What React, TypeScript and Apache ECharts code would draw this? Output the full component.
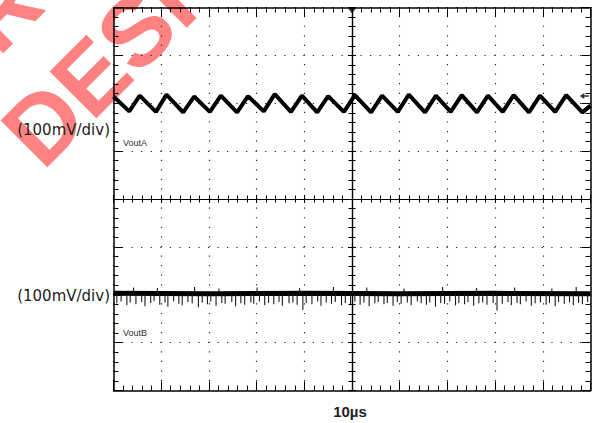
import React, { useEffect, useRef } from "react";
import * as echarts from "echarts";

// ---- data ----
const timeMin = -50; // µs, trigger at centre
const timeMax = 50;
const timeStep = 10; // 10µs/div
const voltMin = -400; // mV
const voltMax = 400;
const voltStep = 100; // 100mV/div

// Channel A: triangular ripple (vertices: time µs, mV)
const traceATimes = [
  -50, -46.7, -44.5, -41.1, -38.9, -35.4, -33.1, -29.8, -27.5, -24.1, -21.8, -18.5, -16.2,
  -12.8, -10.5, -7.3, -5.0, -1.7, 0.6, 4.0, 6.3, 9.6, 11.9, 15.3, 17.6, 20.7, 23.0, 26.2,
  28.5, 31.6, 33.9, 37.1, 39.4, 42.6, 44.9, 48.3, 50,
];
const traceAValues = [
  214, 183, 216, 182, 218, 181, 214, 182, 216, 181, 215, 183, 219, 182, 216, 181, 215, 182,
  217, 181, 216, 182, 218, 181, 216, 182, 217, 181, 216, 182, 217, 181, 216, 182, 217, 181,
  195,
];

// Channel B: flat noisy level
const traceBTimes = [-50, -30, -10, 10, 30, 50];
const traceBValues = [-197, -198, -197, -198, -197, -198];
const traceBBase = -198;
// downward noise spikes on channel B: [time µs, tip mV]
const spikesDown = [
  [-49.3, -218], [-48.4, -214], [-47.2, -222], [-46.5, -216], [-45.3, -220], [-44.1, -215],
  [-43.4, -224], [-42.2, -217], [-41.5, -213], [-40.3, -221], [-39.2, -216], [-38.6, -225],
  [-37.4, -214], [-36.3, -219], [-35.6, -222], [-34.4, -215], [-33.5, -218], [-32.2, -226],
  [-31.4, -216], [-30.3, -220], [-29.6, -214], [-28.5, -223], [-27.3, -217], [-26.6, -219],
  [-25.2, -215], [-24.4, -224], [-23.3, -218], [-22.5, -221], [-21.2, -216], [-20.6, -219],
  [-19.4, -214], [-18.3, -222], [-17.5, -217], [-16.4, -220], [-15.3, -215], [-14.6, -223],
  [-13.2, -218], [-12.4, -216], [-11.5, -221], [-10.3, -232], [-9.6, -217], [-8.4, -220],
  [-7.2, -214], [-6.5, -223], [-5.4, -216], [-4.3, -219], [-3.5, -215], [-2.2, -222],
  [-1.4, -217], [-0.3, -220], [0.6, -214], [1.7, -221], [2.5, -216], [3.6, -224],
  [4.8, -218], [5.5, -215], [6.7, -220], [7.4, -217], [8.6, -223], [9.5, -215],
  [10.3, -219], [11.6, -216], [12.4, -222], [13.7, -214], [14.5, -218], [15.6, -221],
  [16.3, -216], [17.5, -225], [18.6, -217], [19.4, -219], [20.5, -214], [21.7, -222],
  [22.4, -217], [23.6, -220], [24.3, -215], [25.5, -223], [26.6, -218], [27.4, -216],
  [28.3, -221], [29.6, -217], [30.4, -233], [31.5, -219], [32.7, -215], [33.4, -222],
  [34.6, -217], [35.3, -220], [36.5, -214], [37.6, -223], [38.4, -218], [39.5, -216],
  [40.7, -221], [41.4, -217], [42.6, -224], [43.3, -215], [44.5, -219], [45.6, -216],
  [46.4, -222], [47.5, -217], [48.3, -220], [49.4, -215],
];
// upward noise spikes on channel B: [time µs, tip mV]
const spikesUp = [
  [-45.8, -185], [-40.8, -186], [-33.0, -184], [-27.9, -187], [-19.9, -185], [-11.0, -186],
  [-3.9, -184], [3.1, -185], [10.9, -187], [19.0, -184], [26.1, -186], [34.1, -185],
  [41.9, -187], [47.0, -184],
];

const triggerPoint = [[0, 400]];
const levelPoint = [[48.7, 215]];

const scaleLabel = "(100mV/div)";
const channelNames = ["VoutA", "VoutB"];
const timeLabel = "10µs";
const watermarkLines = ["NOT RECOMMENDED FOR", "NEW", "DESIGNS"];

const tickLine = { color: "#000", width: 1 };

function borderAxis(position: string, dotted: any) {
  return {
    type: "value",
    position,
    axisLine: { show: true, onZero: false, lineStyle: { color: "#000", width: 1.5 } },
    axisTick: { show: true, inside: true, length: 9, lineStyle: tickLine },
    minorTick: { show: true, splitNumber: 5, length: 5, lineStyle: tickLine },
    axisLabel: { show: false },
    splitLine: dotted
      ? { show: true, lineStyle: { color: "#222", width: 1.2, type: dotted, dashOffset: 0.6 } }
      : { show: false },
  };
}

function centerAxis(position: string, inside: boolean) {
  return {
    type: "value",
    position,
    axisLine: { show: true, onZero: true, lineStyle: { color: "#000", width: 1.2 } },
    axisTick: { show: true, inside, length: 4, lineStyle: tickLine },
    minorTick: { show: true, splitNumber: 5, length: 3.5, lineStyle: tickLine },
    axisLabel: { show: false },
    splitLine: { show: false },
  };
}

function spikeSeries(data: number[][]) {
  return {
    type: "custom",
    xAxisIndex: 0,
    yAxisIndex: 0,
    data,
    z: 6,
    silent: true,
    renderItem: (params: any, api: any) => {
      const t = api.value(0);
      const p0 = api.coord([t, traceBBase]);
      const p1 = api.coord([t, api.value(1)]);
      return {
        type: "line",
        shape: { x1: p0[0], y1: p0[1], x2: p1[0], y2: p1[1] },
        style: { stroke: "#1a1a1a", lineWidth: 1.1 },
      };
    },
  };
}

export default function App() {
  const ref = useRef<HTMLDivElement>(null);
  useEffect(() => {
    if (!ref.current) return;
    const chart = echarts.init(ref.current, undefined, { renderer: "svg" });
    const xRange = { min: timeMin, max: timeMax, interval: timeStep };
    const yRange = { min: voltMin, max: voltMax, interval: voltStep };
    const traceA = traceATimes.map((t, i) => [t, traceAValues[i]]);
    const traceB = traceBTimes.map((t, i) => [t, traceBValues[i]]);
    const wmStyle = {
      fontFamily: "Liberation Sans",
      fontWeight: "bold",
      fontSize: 96,
      fill: "rgb(255,130,130)",
      verticalAlign: "middle",
    };
    const rot = Math.PI / 4;
    chart.setOption({
      animation: false,
      backgroundColor: "#fff",
      grid: { left: 113.5, top: 7.5, width: 477, height: 383, containLabel: false },
      xAxis: [
        { ...borderAxis("bottom", [1.2, 8.375]), ...xRange },
        { ...borderAxis("top", null), ...xRange },
        { ...centerAxis("bottom", false), ...xRange },
        { ...centerAxis("bottom", true), ...xRange },
      ],
      yAxis: [
        { ...borderAxis("left", [1.2, 8.34]), ...yRange },
        { ...borderAxis("right", null), ...yRange },
        { ...centerAxis("left", false), ...yRange },
        { ...centerAxis("left", true), ...yRange },
      ],
      series: [
        {
          type: "line",
          xAxisIndex: 0,
          yAxisIndex: 0,
          data: traceA,
          symbol: "none",
          lineStyle: { color: "#000", width: 4 },
          z: 5,
        },
        {
          type: "line",
          xAxisIndex: 0,
          yAxisIndex: 0,
          data: traceB,
          symbol: "none",
          lineStyle: { color: "#000", width: 5 },
          z: 5,
        },
        spikeSeries(spikesDown),
        spikeSeries(spikesUp),
        {
          type: "scatter",
          xAxisIndex: 0,
          yAxisIndex: 0,
          data: triggerPoint,
          symbol: "triangle",
          symbolRotate: 180,
          symbolSize: [9, 6],
          symbolOffset: [0, 3],
          itemStyle: { color: "#000" },
          clip: false,
          z: 6,
        },
        {
          type: "scatter",
          xAxisIndex: 0,
          yAxisIndex: 0,
          data: levelPoint,
          symbol: "path://M0,4 L5,0 L5,3 L10,3 L10,5 L5,5 L5,8 Z",
          symbolSize: [9, 6],
          itemStyle: { color: "#000" },
          clip: false,
          z: 6,
        },
      ],
      graphic: [
        { type: "text", x: 24, y: -15, rotation: rot, z: -10, silent: true,
          style: { ...wmStyle, text: watermarkLines[0], align: "right" } },
        { type: "text", x: -16.4, y: 183.4, rotation: rot, z: -10, silent: true,
          style: { ...wmStyle, text: watermarkLines[1], align: "right" } },
        { type: "text", x: 19, y: 148, rotation: rot, z: -10, silent: true,
          style: { ...wmStyle, text: watermarkLines[2], align: "left" } },
        { type: "text", x: 110, y: 130, z: 10,
          style: { text: scaleLabel, fontFamily: "DejaVu Sans", fontSize: 15, fill: "#222",
            align: "right", verticalAlign: "middle" } },
        { type: "text", x: 110, y: 296, z: 10,
          style: { text: scaleLabel, fontFamily: "DejaVu Sans", fontSize: 15, fill: "#222",
            align: "right", verticalAlign: "middle" } },
        { type: "text", x: 123, y: 142.5, z: 10,
          style: { text: channelNames[0], fontFamily: "Liberation Sans", fontSize: 9, fill: "#333",
            align: "left", verticalAlign: "middle" } },
        { type: "text", x: 123, y: 333, z: 10,
          style: { text: channelNames[1], fontFamily: "Liberation Sans", fontSize: 9, fill: "#333",
            align: "left", verticalAlign: "middle" } },
        { type: "text", x: 350, y: 411.5, z: 10,
          style: { text: timeLabel, fontFamily: "Liberation Sans", fontWeight: "bold", fontSize: 15,
            fill: "#222", align: "center", verticalAlign: "middle" } },
      ],
    });
    return () => chart.dispose();
  }, []);
  return (
    <div
      ref={ref}
      style={{ position: "absolute", left: 0, top: 0, width: 595, height: 423 }}
    />
  );
}
